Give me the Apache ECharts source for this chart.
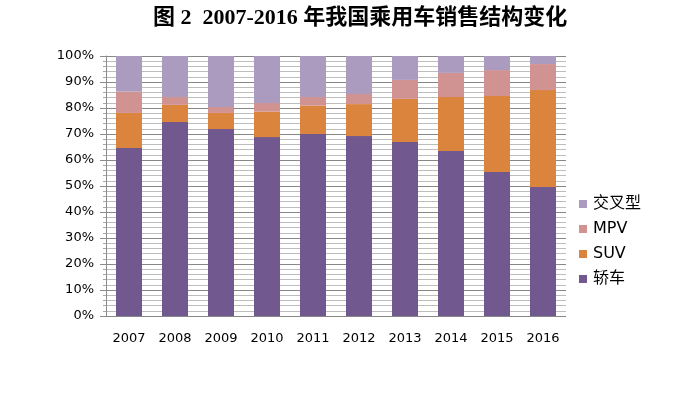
<!DOCTYPE html>
<html><head><meta charset="utf-8">
<script src="https://cdn.jsdelivr.net/npm/echarts@6/dist/echarts.min.js"></script>
<style>html,body{margin:0;padding:0;background:#fff}#c{width:677px;height:395px}</style>
</head><body><div id="c"></div>
<script>
var categories = ['2007','2008','2009','2010','2011','2012','2013','2014','2015','2016'];
var sedan = [64.6, 74.6, 71.9, 68.8, 70.0, 69.2, 66.9, 63.5, 55.4, 49.6];
var suv = [13.5, 6.6, 6.2, 9.8, 10.9, 12.3, 16.6, 20.7, 29.2, 37.3];
var mpv = [8.2, 3.0, 2.3, 3.3, 3.3, 3.9, 7.3, 9.3, 10.0, 10.0];
var crossover = [13.7, 15.8, 19.6, 18.1, 15.8, 14.6, 9.2, 6.5, 5.4, 3.1];
var seriesNames = ['轿车','SUV','MPV','交叉型'];
var colors = ['#71588F','#DB843D','#D19392','#AA9BBF'];
var title = '图 2  2007-2016 年我国乘用车销售结构变化';

var chart = echarts.init(document.getElementById('c'), null, {renderer:'canvas'});
var datasets = [sedan, suv, mpv, crossover];
chart.setOption({
  animation: false,
  title: {text: title, left: 148, top: 2,
    textStyle: {fontFamily: '"Liberation Serif","Noto Sans CJK SC"', fontWeight: 'bold', fontSize: 22, color: '#000'}},
  legend: {orient: 'vertical', left: 574, top: 191, itemWidth: 8, itemHeight: 8, itemGap: 9,
    icon: 'rect', data: ['交叉型','MPV','SUV','轿车'],
    textStyle: {fontFamily: '"DejaVu Sans","Noto Sans CJK SC"', fontSize: 16, color: '#000', padding: [0,0,0,1]}},
  grid: {left: 106, right: 111, top: 56, bottom: 79, containLabel: false},
  xAxis: {type: 'category', data: categories,
    axisLine: {show: false}, axisTick: {show: false},
    axisLabel: {fontFamily: '"DejaVu Sans"', fontSize: 13, color: '#000', margin: 16}},
  yAxis: {type: 'value', min: 0, max: 100, interval: 10,
    axisLine: {show: true, lineStyle: {color: '#8C8C8C', width: 1}},
    axisTick: {show: true, length: 6, lineStyle: {color: '#8C8C8C'}},
    minorTick: {show: true, splitNumber: 5, length: 3, lineStyle: {color: '#A6A6A6'}},
    splitLine: {show: true, lineStyle: {color: '#878787', width: 1}},
    minorSplitLine: {show: true, lineStyle: {color: '#BDBDBD', width: 1}},
    axisLabel: {formatter: '{value}%', fontFamily: '"DejaVu Sans"', fontSize: 13, color: '#000', margin: 12}},
  series: seriesNames.map(function(n, i){
    return {name: n, type: 'bar', stack: 'all', data: datasets[i], barWidth: 26,
      itemStyle: {color: colors[i]}};
  })
});
</script></body></html>
